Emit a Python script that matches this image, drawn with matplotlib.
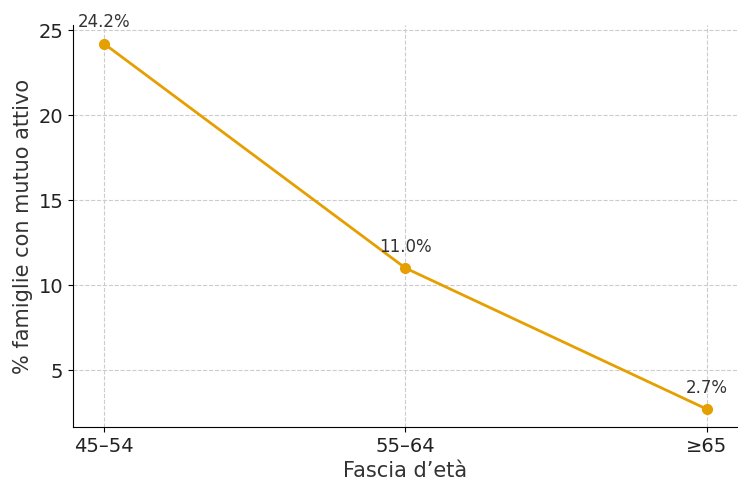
import matplotlib
matplotlib.use("Agg")
import matplotlib.pyplot as plt

categories = ["45–54", "55–64", "≥65"]
values = [24.2, 11.0, 2.7]
labels = ["24.2%", "11.0%", "2.7%"]

fig = plt.figure(figsize=(7.5, 4.95), dpi=100)
ax = fig.add_axes([73/750, 1-427/495, (737-73)/750, (427-25)/495])
x = list(range(len(categories)))
ax.plot(x, values, color="#E69F00", linewidth=2, marker="o", markersize=7)
for xi, v, t in zip(x, values, labels):
    ax.annotate(t, (xi, v), xytext=(0, 9), textcoords="offset points",
                ha="center", va="bottom", fontsize=12, color="#333333")
ax.set_xticks(x)
ax.set_xticklabels(categories)
ax.set_yticks([5, 10, 15, 20, 25])
ax.set_xlim(-0.103, 2.1)
ax.set_ylim(1.65, 25.3)
ax.grid(True, linestyle="--", color="#cccccc", linewidth=0.8)
ax.set_axisbelow(True)
ax.spines["top"].set_visible(False)
ax.spines["right"].set_visible(False)
ax.tick_params(labelsize=14, labelcolor="#222222")
ax.set_xlabel("Fascia d’età", fontsize=15, color="#333333")
ax.set_ylabel("% famiglie con mutuo attivo", fontsize=15, color="#333333")
fig.savefig("out.png", dpi=100)
